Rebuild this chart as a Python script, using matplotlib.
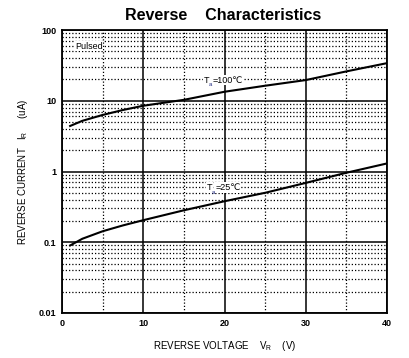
import matplotlib
matplotlib.use("Agg")
import matplotlib.pyplot as plt
from matplotlib.ticker import FixedLocator, NullFormatter

plt.rcParams['font.family'] = ['Liberation Sans', 'DejaVu Sans']

# data
vr = [1, 2.5, 5, 7.5, 10, 15, 20, 25, 30, 35, 40]
ir_100c = [4.4, 5.2, 6.3, 7.4, 8.5, 10.3, 13.4, 16.3, 19.6, 26.0, 34.0]
ir_25c = [0.09, 0.112, 0.143, 0.173, 0.205, 0.283, 0.38, 0.50, 0.69, 0.96, 1.3]

x_major = [0, 10, 20, 30, 40]
x_minor = [5, 15, 25, 35]
y_major = [0.01, 0.1, 1, 10, 100]
y_major_labels = ["0.01", "0.1", "1", "10", "100"]
y_minor = [m * d for d in (0.01, 0.1, 1, 10) for m in range(2, 10)]

fig = plt.figure(figsize=(4.09, 3.58), dpi=100)
ax = fig.add_axes([62/409, 1-313/358, 325/409, 283/358])
ax.set_yscale("log")
ax.set_xlim(0, 40); ax.set_ylim(0.01, 100)

ax.xaxis.set_major_locator(FixedLocator(x_major))
ax.xaxis.set_minor_locator(FixedLocator(x_minor))
ax.yaxis.set_major_locator(FixedLocator(y_major))
ax.yaxis.set_minor_locator(FixedLocator(y_minor))
ax.yaxis.set_minor_formatter(NullFormatter())
ax.set_yticklabels(y_major_labels)
ax.tick_params(which="both", length=0, labelsize=6.5, pad=4)
for lab in ax.get_xticklabels() + ax.get_yticklabels():
    lab.set_fontweight("bold")

ax.grid(True, which="major", color="black", lw=1.1, ls="-")
ax.grid(True, which="minor", color="black", lw=0.9, ls=(0, (1, 1.6)))
ax.set_axisbelow(True)
for sp in ax.spines.values():
    sp.set_linewidth(1.3)

ax.plot(vr, ir_100c, color="black", lw=1.5)
ax.plot(vr, ir_25c, color="black", lw=1.5)

box = dict(facecolor="white", edgecolor="none", pad=0.5)
ax.text(1.6, 59, "Pulsed", fontsize=6.5, va="center", ha="left", bbox=box)

def temp_label(x, y, rest):
    # T with a small subscript "a", then "=..℃"
    ax.annotate("T", (x, y), fontsize=6.5, va="center", ha="left", bbox=box)
    ax.annotate(rest, (x, y), xytext=(6.3, 0), textcoords="offset points",
                fontsize=6.5, va="center", ha="left", bbox=box)
    ax.annotate("a", (x, y), xytext=(3.6, -3.5), textcoords="offset points",
                fontsize=4.2, va="center", ha="left", color="#1a237e", zorder=5)

temp_label(17.4, 19.6, "=100℃")
temp_label(17.8, 0.594, "=25℃")

fig.text(0.546, 1-16/358, "Reverse    Characteristics", fontsize=11.5, fontweight="bold",
         ha="center", va="center")
ax.set_xlabel(r"REVERSE VOLTAGE    V$_{\mathregular{R}}$    (V)", fontsize=7, labelpad=8)
ax.set_ylabel(r"REVERSE CURRENT   I$_{\mathregular{R}}$     (uA)", fontsize=7, labelpad=6)

fig.savefig("out.png", dpi=100)
